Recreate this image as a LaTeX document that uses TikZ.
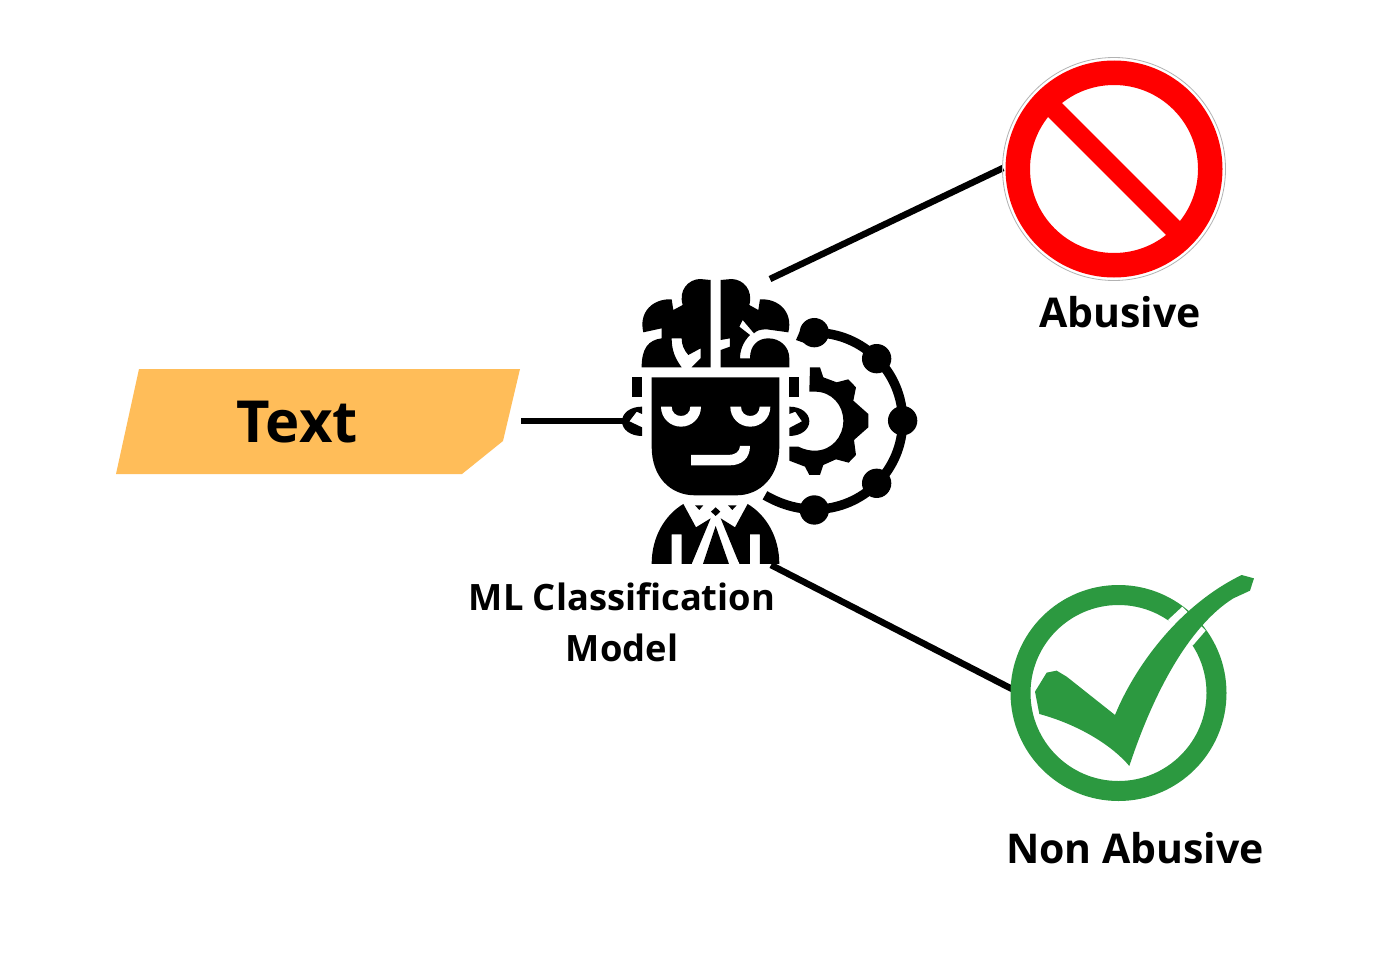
\documentclass[tikz,border=0pt]{standalone}
\usepackage{fontspec}
\setmainfont{Open Sans}[BoldFont={Open Sans Bold}]
\definecolor{tagorange}{HTML}{FFBD59}
\definecolor{okgreen}{HTML}{2C9940}
\tikzset{
  conn/.style={line width=6.5pt,black},
  lab/.style={font=\bfseries\fontsize{41}{48}\selectfont,inner sep=0pt,anchor=center},
  modellab/.style={font=\bfseries\fontsize{36.3}{44}\selectfont,inner sep=0pt,anchor=center},
  iconz/.style={x=0.3333pt,y=-0.3333pt,shift={(610pt,-270pt)}},
  checkz/.style={x=0.3333pt,y=-0.3333pt,shift={(990pt,-560pt)}}
}
\begin{document}
\begin{tikzpicture}[x=1pt,y=-1pt]
\useasboundingbox (0,0) rectangle (1397,974);
\fill[white] (0,0) rectangle (1397,974);
% tag
\fill[tagorange] (139,369) -- (520,369) -- (503,441) -- (462,474) -- (116,474) -- cycle;
\node[lab,font=\bfseries\fontsize{58}{66}\selectfont] (tag) at (297,422) {Text};
% connectors
\coordinate (tagout) at (521,421);
\coordinate (earin) at (625,421);
\coordinate (modeltop) at (770,279);
\coordinate (modelbot) at (771,565);
\coordinate (noin) at (1003,168);
\coordinate (yesin) at (1012,689);
\draw[conn] (tagout) -- (earin);
\draw[conn] (modeltop) -- (noin);
\draw[conn] (modelbot) -- (yesin);
% model icon
\begin{scope}[iconz]
  % brain left
  \fill (302,30) -- (270,27) .. controls (235,28) and (205,60) .. (218,105) -- (190,120) -- (185,88)
    .. controls (130,85) and (85,125) .. (100,187) -- (155,175) -- (155,205)
    .. controls (115,210) and (95,235) .. (95,292) -- (215,292)
    .. controls (195,265) and (185,240) .. (185,205) -- (215,205)
    .. controls (215,225) and (222,240) .. (235,255) -- (272,235) -- (272,265) -- (245,292) -- (302,292) -- cycle;
  % brain right
  \fill (332,30) -- (365,27) .. controls (400,28) and (430,60) .. (418,105) -- (445,120) -- (450,88)
    .. controls (505,85) and (550,125) .. (535,187) -- (470,178) .. controls (450,178) and (440,182) .. (432,190)
    -- (398,150) -- (388,170) -- (420,195) .. controls (400,215) and (390,240) .. (390,265) -- (420,265)
    .. controls (420,225) and (445,205) .. (475,205) .. controls (510,205) and (538,230) .. (538,265)
    -- (538,292) -- (332,292) -- (332,240) -- (360,230) -- (360,205) -- (332,210) -- cycle;
  % head
  \fill (125,322) -- (508,322) -- (508,530) .. controls (508,620) and (450,676) .. (380,676) -- (255,676)
    .. controls (180,676) and (125,620) .. (125,530) -- cycle;
  % eyes
  \fill[white] (153,410) -- (185,410) .. controls (185,428) and (198,438) .. (213,438)
    .. controls (228,438) and (241,428) .. (241,410) -- (273,410)
    .. controls (273,445) and (245,470) .. (213,470) .. controls (181,470) and (153,445) .. (153,410) -- cycle;
  \fill[white] (361,410) -- (393,410) .. controls (393,428) and (406,438) .. (421,438)
    .. controls (436,438) and (449,428) .. (449,410) -- (481,410)
    .. controls (481,445) and (453,470) .. (421,470) .. controls (389,470) and (361,445) .. (361,410) -- cycle;
  % mouth
  \fill[white] (243,555) -- (355,555) .. controls (375,555) and (390,545) .. (390,528) -- (420,528)
    .. controls (420,565) and (395,586) .. (360,586) -- (243,586) -- cycle;
  % side bars
  \fill (66,322) rectangle (96,380);
  \fill (538,322) rectangle (568,380);
  % ears
  \fill (96,410) .. controls (60,410) and (36,430) .. (36,454) .. controls (36,478) and (60,498) .. (96,498)
    -- (96,472) -- (58,454) -- (80,425) -- (96,432) -- cycle;
  \fill (538,410) .. controls (574,410) and (598,430) .. (598,454) .. controls (598,478) and (574,498) .. (538,498)
    -- (538,474) -- (576,454) -- (556,425) -- (538,432) -- cycle;
  % gear
  \fill (600,292) -- (630,292) -- (640,322) -- (680,337) -- (715,328) -- (738,352) -- (730,392) -- (775,432)
    -- (775,472) -- (732,510) -- (738,555) -- (716,578) -- (678,568) -- (640,585) -- (630,615) -- (598,615)
    -- (585,590) -- (538,572) -- (538,530) -- (565,530) .. controls (585,540) and (600,542) .. (615,542)
    .. controls (665,542) and (700,500) .. (700,453) .. controls (700,405) and (665,365) .. (615,365)
    -- (598,365) -- cycle;
  % gear ring
  \draw[line width=9.5pt] (613,188) .. controls (760,188) and (878,306) .. (878,453)
     .. controls (878,600) and (760,718) .. (613,718) .. controls (560,718) and (510,702) .. (465,676);
  \foreach \cx/\cy in {613/188,800/266,878/452,800/640,613/720}{
    \fill (\cx,\cy) ellipse[x radius=44,y radius=44];
  }
  \fill (558,210) -- (580,160) -- (600,225) -- cycle;
  % body
  \fill (125,882) .. controls (125,800) and (165,735) .. (220,702) -- (258,772) -- (302,745) -- (245,882)
    -- (215,882) -- (215,793) -- (185,793) -- (185,882) -- cycle;
  \fill (508,882) .. controls (508,800) and (468,735) .. (413,702) -- (375,772) -- (332,745) -- (388,882)
    -- (420,882) -- (420,793) -- (450,793) -- (450,882) -- cycle;
  \fill[white] (317,752) -- (390,885) -- (358,885) -- (317,770) -- (278,885) -- (245,885) -- cycle;
  \fill (317,768) -- (357,882) -- (279,882) -- cycle;
  \fill (255,706) -- (280,706) -- (268,720) -- cycle;
  \fill (354,706) -- (380,706) -- (367,720) -- cycle;
  \fill (317,712) -- (331,725) -- (317,738) -- (303,725) -- cycle;
\end{scope}
\node[modellab] (model1) at (622,597) {ML Classification};
\node[modellab] (model2) at (622,648) {Model};
% prohibition sign
\draw[red,line width=19.5pt] (1114,169) ++(-66,-66) -- ++(132,132);
\fill[red,even odd rule] (1114,169) circle[radius=108.5] (1114,169) circle[radius=84];
\draw[black!30,line width=0.8pt] (1114,169) circle[radius=111.5];
\node[lab] (abusive) at (1120,312) {Abusive};
% check sign
\fill[okgreen,even odd rule] (1118.5,693) circle[radius=108] (1118.5,693) circle[radius=88];
\begin{scope}[checkz]
  \fill[white] (534,180) -- (577,140) -- (647,212) -- (608,257) -- cycle;
  \fill[okgreen] (755,45) -- (792,55) -- (780,92) -- (730,115) .. controls (610,190) and (500,370) .. (418,618)
    .. controls (370,560) and (270,495) .. (148,462)
    -- (135,395) -- (170,338) -- (200,332) -- (230,350) -- (375,465)
    .. controls (430,330) and (560,140) .. (755,45) -- cycle;
\end{scope}
\node[lab] (nonabusive) at (1135,848) {Non Abusive};
\end{tikzpicture}
\end{document}
